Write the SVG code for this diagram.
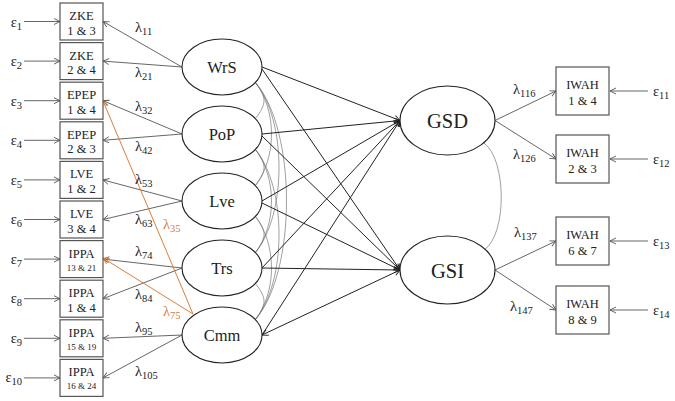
<svg xmlns="http://www.w3.org/2000/svg" width="675" height="401" viewBox="0 0 675 401">
<defs>
<style>
.box{fill:#fff;stroke:#555;stroke-width:1.2}
.lat{fill:#fff;stroke:#222;stroke-width:1.1}
.t{font-family:"Liberation Serif","Times New Roman",serif;fill:#222;text-anchor:middle}
.bx{font-size:12.5px}
.sm{font-size:9px}
.lv{font-size:16.5px}
.big{font-size:20.5px}
.lab{font-family:"Liberation Serif","Times New Roman",serif;font-size:14.5px;fill:#222}
.or{fill:#D4803F}
.sub{font-size:10.5px}
.m{stroke:#555;stroke-width:0.9;fill:none;marker-end:url(#ag)}
.s{stroke:#222;stroke-width:1;fill:none;marker-end:url(#ab)}
.o{stroke:#D4803F;stroke-width:1;fill:none;marker-end:url(#ao)}
.c{stroke:#777;stroke-width:0.7;fill:none}
</style>
<marker id="ag" markerWidth="8" markerHeight="8" refX="6.5" refY="3.5" orient="auto-start-reverse" markerUnits="userSpaceOnUse"><path d="M0.5,0.5 L6.5,3.5 L0.5,6.5" fill="none" stroke="#555" stroke-width="0.9"/></marker>
<marker id="ab" markerWidth="8" markerHeight="8" refX="6.5" refY="3.5" orient="auto-start-reverse" markerUnits="userSpaceOnUse"><path d="M0.5,0.5 L6.5,3.5 L0.5,6.5" fill="none" stroke="#222" stroke-width="1"/></marker>
<marker id="ao" markerWidth="8" markerHeight="8" refX="6.5" refY="3.5" orient="auto-start-reverse" markerUnits="userSpaceOnUse"><path d="M0.5,0.5 L6.5,3.5 L0.5,6.5" fill="none" stroke="#D4803F" stroke-width="1"/></marker>
</defs>
<rect width="675" height="401" fill="#fff"/>

<g id="connectors">
<!-- error arrows left -->
<line class="m" x1="24" y1="21.5" x2="60" y2="21.5"/>
<line class="m" x1="24" y1="61.1" x2="60" y2="61.1"/>
<line class="m" x1="24" y1="100.7" x2="60" y2="100.7"/>
<line class="m" x1="24" y1="140.3" x2="60" y2="140.3"/>
<line class="m" x1="24" y1="179.9" x2="60" y2="179.9"/>
<line class="m" x1="24" y1="219.5" x2="60" y2="219.5"/>
<line class="m" x1="24" y1="259.1" x2="60" y2="259.1"/>
<line class="m" x1="24" y1="298.7" x2="60" y2="298.7"/>
<line class="m" x1="24" y1="338.3" x2="60" y2="338.3"/>
<line class="m" x1="24" y1="377.9" x2="60" y2="377.9"/>
<!-- loadings -->
<line class="m" x1="182" y1="67" x2="103" y2="21.5"/>
<line class="m" x1="182" y1="67" x2="103" y2="61.1"/>
<line class="m" x1="182" y1="134" x2="103" y2="100.7"/>
<line class="m" x1="182" y1="134" x2="103" y2="140.3"/>
<line class="m" x1="182" y1="201" x2="103" y2="179.9"/>
<line class="m" x1="182" y1="201" x2="103" y2="219.5"/>
<line class="m" x1="182" y1="268" x2="103" y2="259.1"/>
<line class="m" x1="182" y1="268" x2="103" y2="298.7"/>
<line class="m" x1="182" y1="335" x2="103" y2="338.3"/>
<line class="m" x1="182" y1="335" x2="103" y2="377.9"/>
<!-- cross loadings -->
<line class="o" x1="193" y1="314" x2="103" y2="101"/>
<line class="o" x1="193" y1="314" x2="103" y2="258"/>
<!-- covariances among latents -->
<path class="c" d="M255 82C267 97 267 104 255 119"/>
<path class="c" d="M255 149C267 164 267 171 255 186"/>
<path class="c" d="M255 216C267 231 267 238 255 253"/>
<path class="c" d="M255 283C267 298 267 305 255 320"/>
<path class="c" d="M255 82C277 110 277 158 255 186"/>
<path class="c" d="M255 149C277 177 277 225 255 253"/>
<path class="c" d="M255 216C277 244 277 292 255 320"/>
<path class="c" d="M255 82C287 120 287 215 255 253"/>
<path class="c" d="M255 149C287 187 287 282 255 320"/>
<path class="c" d="M255 82C297 130 297 272 255 320"/>
<!-- structural -->
<line class="s" x1="262" y1="67" x2="400" y2="120.5"/>
<line class="s" x1="262" y1="134" x2="400" y2="120.5"/>
<line class="s" x1="262" y1="201" x2="400" y2="120.5"/>
<line class="s" x1="262" y1="268" x2="400" y2="120.5"/>
<line class="s" x1="262" y1="335" x2="400" y2="120.5"/>
<line class="s" x1="262" y1="69" x2="400" y2="270"/>
<line class="s" x1="262" y1="136" x2="400" y2="270"/>
<line class="s" x1="262" y1="203" x2="400" y2="270"/>
<line class="s" x1="262" y1="268" x2="400" y2="270"/>
<line class="s" x1="262" y1="335" x2="400" y2="270" style="marker-start:url(#ab)"/>
<!-- GSD-GSI covariance -->
<path class="c" d="M484 143C507 160 507 235 484 250"/>
<!-- right loadings -->
<line class="m" x1="495" y1="120.5" x2="556" y2="91"/>
<line class="m" x1="495" y1="120.5" x2="556" y2="159"/>
<line class="m" x1="495" y1="270" x2="556" y2="241"/>
<line class="m" x1="495" y1="270" x2="556" y2="310"/>
<!-- right errors -->
<line class="m" x1="648" y1="91" x2="610" y2="91"/>
<line class="m" x1="648" y1="159" x2="610" y2="159"/>
<line class="m" x1="648" y1="241" x2="610" y2="241"/>
<line class="m" x1="648" y1="310" x2="610" y2="310"/>
</g>

<g id="box1"><rect class="box" x="60" y="3" width="43" height="37"/><text class="t bx" x="81.5" y="20">ZKE</text><text class="t bx" x="81.5" y="34.5">1 &amp; 3</text></g>
<g id="box2"><rect class="box" x="60" y="42.6" width="43" height="37"/><text class="t bx" x="81.5" y="59.6">ZKE</text><text class="t bx" x="81.5" y="74.1">2 &amp; 4</text></g>
<g id="box3"><rect class="box" x="60" y="82.2" width="43" height="37"/><text class="t bx" x="81.5" y="99.2">EPEP</text><text class="t bx" x="81.5" y="113.7">1 &amp; 4</text></g>
<g id="box4"><rect class="box" x="60" y="121.8" width="43" height="37"/><text class="t bx" x="81.5" y="138.8">EPEP</text><text class="t bx" x="81.5" y="153.3">2 &amp; 3</text></g>
<g id="box5"><rect class="box" x="60" y="161.4" width="43" height="37"/><text class="t bx" x="81.5" y="178.4">LVE</text><text class="t bx" x="81.5" y="192.9">1 &amp; 2</text></g>
<g id="box6"><rect class="box" x="60" y="201" width="43" height="37"/><text class="t bx" x="81.5" y="218">LVE</text><text class="t bx" x="81.5" y="232.5">3 &amp; 4</text></g>
<g id="box7"><rect class="box" x="60" y="240.6" width="43" height="37"/><text class="t bx" x="81.5" y="257.6">IPPA</text><text class="t sm" x="81.5" y="270.6">13 &amp; 21</text></g>
<g id="box8"><rect class="box" x="60" y="280.2" width="43" height="37"/><text class="t bx" x="81.5" y="297.2">IPPA</text><text class="t bx" x="81.5" y="311.7">1 &amp; 4</text></g>
<g id="box9"><rect class="box" x="60" y="319.8" width="43" height="37"/><text class="t bx" x="81.5" y="336.8">IPPA</text><text class="t sm" x="81.5" y="349.8">15 &amp; 19</text></g>
<g id="box10"><rect class="box" x="60" y="359.4" width="43" height="37"/><text class="t bx" x="81.5" y="376.4">IPPA</text><text class="t sm" x="81.5" y="389.4">16 &amp; 24</text></g>

<g id="WrS"><ellipse class="lat" cx="222" cy="67" rx="40" ry="28"/><text class="t lv" x="222" y="73">WrS</text></g>
<g id="PoP"><ellipse class="lat" cx="222" cy="134" rx="40" ry="28"/><text class="t lv" x="222" y="140">PoP</text></g>
<g id="Lve"><ellipse class="lat" cx="222" cy="201" rx="40" ry="28"/><text class="t lv" x="222" y="207">Lve</text></g>
<g id="Trs"><ellipse class="lat" cx="222" cy="268" rx="40" ry="28"/><text class="t lv" x="222" y="274">Trs</text></g>
<g id="Cmm"><ellipse class="lat" cx="222" cy="335" rx="40" ry="28"/><text class="t lv" x="222" y="341">Cmm</text></g>

<g id="GSD"><ellipse class="lat" cx="447.5" cy="120.5" rx="47.5" ry="34.5"/><text class="t big" x="447.5" y="128">GSD</text></g>
<g id="GSI"><ellipse class="lat" cx="447.5" cy="270" rx="47.5" ry="34"/><text class="t big" x="447.5" y="277.5">GSI</text></g>

<g id="iwah1"><rect class="box" x="556" y="67" width="53" height="48"/><text class="t bx" x="582.5" y="89">IWAH</text><text class="t bx" x="582.5" y="105">1 &amp; 4</text></g>
<g id="iwah2"><rect class="box" x="556" y="135" width="53" height="48"/><text class="t bx" x="582.5" y="157">IWAH</text><text class="t bx" x="582.5" y="173">2 &amp; 3</text></g>
<g id="iwah3"><rect class="box" x="556" y="217" width="53" height="48"/><text class="t bx" x="582.5" y="239">IWAH</text><text class="t bx" x="582.5" y="255">6 &amp; 7</text></g>
<g id="iwah4"><rect class="box" x="556" y="286" width="53" height="48"/><text class="t bx" x="582.5" y="308">IWAH</text><text class="t bx" x="582.5" y="324">8 &amp; 9</text></g>

<g id="errors" class="lab" text-anchor="end">
<text x="22" y="26.5">ε<tspan class="sub" dy="3">1</tspan></text>
<text x="22" y="66">ε<tspan class="sub" dy="3">2</tspan></text>
<text x="22" y="105.5">ε<tspan class="sub" dy="3">3</tspan></text>
<text x="22" y="145">ε<tspan class="sub" dy="3">4</tspan></text>
<text x="22" y="184.5">ε<tspan class="sub" dy="3">5</tspan></text>
<text x="22" y="224">ε<tspan class="sub" dy="3">6</tspan></text>
<text x="22" y="263.5">ε<tspan class="sub" dy="3">7</tspan></text>
<text x="22" y="303">ε<tspan class="sub" dy="3">8</tspan></text>
<text x="22" y="342.5">ε<tspan class="sub" dy="3">9</tspan></text>
<text x="22" y="382">ε<tspan class="sub" dy="3">10</tspan></text>
</g>
<g id="errorsR" class="lab">
<text x="653" y="95.5">ε<tspan class="sub" dy="3">11</tspan></text>
<text x="653" y="163.5">ε<tspan class="sub" dy="3">12</tspan></text>
<text x="653" y="245.5">ε<tspan class="sub" dy="3">13</tspan></text>
<text x="653" y="314.5">ε<tspan class="sub" dy="3">14</tspan></text>
</g>
<g id="lambdas" class="lab">
<text x="135" y="32">λ<tspan class="sub" dy="3">11</tspan></text>
<text x="135" y="77">λ<tspan class="sub" dy="3">21</tspan></text>
<text x="135" y="111">λ<tspan class="sub" dy="3">32</tspan></text>
<text x="135" y="151">λ<tspan class="sub" dy="3">42</tspan></text>
<text x="135" y="184">λ<tspan class="sub" dy="3">53</tspan></text>
<text x="135" y="224">λ<tspan class="sub" dy="3">63</tspan></text>
<text x="135" y="256">λ<tspan class="sub" dy="3">74</tspan></text>
<text x="135" y="299">λ<tspan class="sub" dy="3">84</tspan></text>
<text x="135" y="332">λ<tspan class="sub" dy="3">95</tspan></text>
<text x="135" y="376">λ<tspan class="sub" dy="3">105</tspan></text>
<text class="or" x="163" y="229">λ<tspan class="sub" dy="3">35</tspan></text>
<text class="or" x="163" y="316">λ<tspan class="sub" dy="3">75</tspan></text>
<text x="513" y="94">λ<tspan class="sub" dy="3">116</tspan></text>
<text x="513" y="159">λ<tspan class="sub" dy="3">126</tspan></text>
<text x="514" y="237">λ<tspan class="sub" dy="3">137</tspan></text>
<text x="510" y="311">λ<tspan class="sub" dy="3">147</tspan></text>
</g>
</svg>
